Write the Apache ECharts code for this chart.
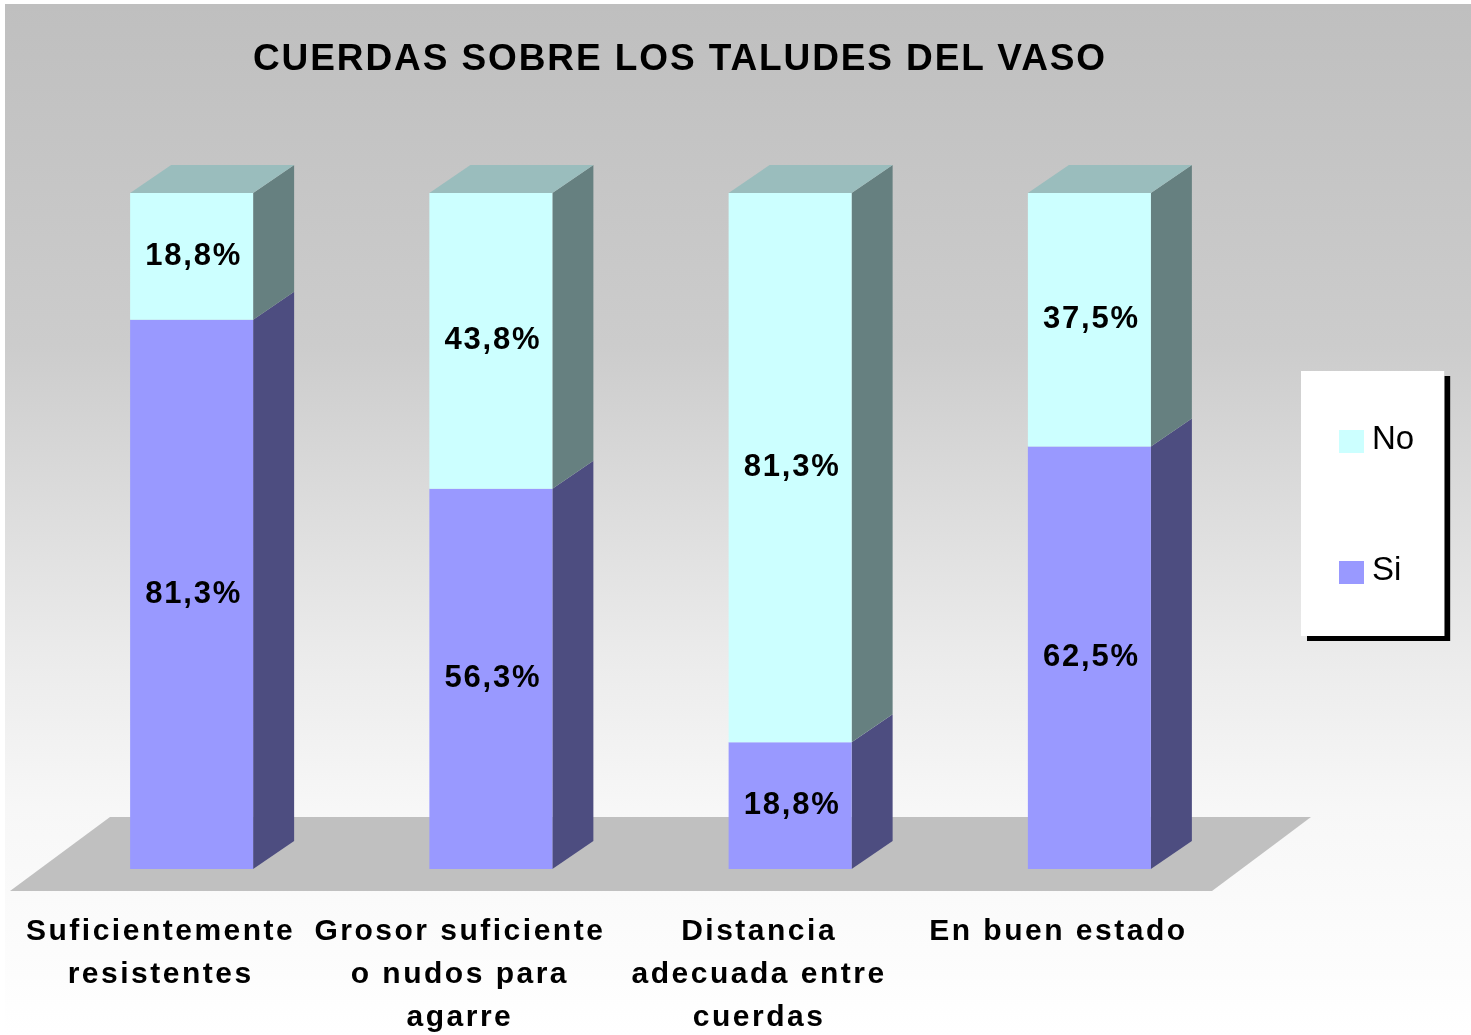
<!DOCTYPE html>
<html><head><meta charset="utf-8">
<style>
html,body{margin:0;padding:0;background:#fff}
#c{width:1471px;height:1035px;filter:blur(0.6px)}
/* bold texts are letter-spaced in the reference */
#c text[style*="37px"]{letter-spacing:1.9px}
#c text[style*="30px"]{letter-spacing:2.5px}
#c text[style*="31px"]{letter-spacing:1.8px}
</style>
<script src="https://cdn.jsdelivr.net/npm/echarts@6/dist/echarts.min.js"></script>
</head><body><div id="c"></div>
<script>
const categories = ['Suficientemente\nresistentes','Grosor suficiente\no nudos para\nagarre','Distancia\nadecuada entre\ncuerdas','En buen estado'];
const si = [81.25, 56.25, 18.75, 62.5];
const no = [18.75, 43.75, 81.25, 37.5];
const titleText = 'CUERDAS SOBRE LOS TALUDES DEL VASO';
const FONT = '"Liberation Sans", Arial, sans-serif';
const BAR_W = 123, DX = 41, DY = 28;
const COL = {si:'#9999ff', no:'#ccffff', siSide:'#4d4d80', noSide:'#668080', noTop:'#9abdbd'};

const sideRows = [];
categories.forEach((c,i)=>{
  sideRows.push([i,0,si[i],0]);
  sideRows.push([i,si[i],si[i]+no[i],1]);
});
const fmt = p => p.value.toFixed(1).replace('.',',') + '%';
const lbl = {show:true,position:'inside',offset:[2,-2],formatter:fmt,color:'#000',fontFamily:FONT,fontWeight:'bold',fontSize:31};

const chart = echarts.init(document.getElementById('c'),null,{renderer:'svg',width:1471,height:1035});
chart.setOption({
  animation:false,
  backgroundColor:'#fff',
  title:{text:titleText,left:675,textAlign:'center',top:34,textStyle:{color:'#000',fontFamily:FONT,fontWeight:'bold',fontSize:37}},
  graphic:[
    {type:'rect',z:-20,silent:true,shape:{x:5,y:4,width:1466,height:1031},
      style:{fill:new echarts.graphic.LinearGradient(0,0,0,1,[
        {offset:0,color:'#bfbfbf'},{offset:0.33,color:'#cccccc'},{offset:0.63,color:'#ebebeb'},{offset:0.78,color:'#f7f7f7'},{offset:1,color:'#ffffff'}])}},
    {type:'polygon',z:-10,silent:true,shape:{points:[[110,817],[1311,817],[1212,891],[10,891]]},style:{fill:'#c0c0c0'}}
  ],
  legend:{
    data:['No','Si'],orient:'vertical',left:1301,top:371,
    padding:[50,30,51,38],itemWidth:25,itemHeight:23,itemGap:98,
    backgroundColor:'#fff',shadowColor:'#000',shadowBlur:0,shadowOffsetX:6,shadowOffsetY:5,
    selectedMode:false,icon:'rect',
    formatter:'{t|{name}}',
    textStyle:{rich:{t:{color:'#000',fontFamily:FONT,fontSize:33,padding:[0,0,8,3]}}}
  },
  grid:{left:42,top:193,width:1197,height:676,outerBoundsMode:'none',containLabel:false},
  xAxis:{type:'category',data:categories,
    axisLine:{show:false},axisTick:{show:false},splitLine:{show:false},
    axisLabel:{interval:0,hideOverlap:false,margin:39,padding:[0,62,0,0],color:'#000',fontFamily:FONT,fontWeight:'bold',fontSize:30,lineHeight:43,align:'center'}},
  yAxis:{type:'value',min:0,max:100,show:false},
  series:[
    {type:'custom',name:'caras',silent:true,z:1,data:sideRows,
     encode:{x:0,y:[1,2]},
     renderItem:(params,api)=>{
       const i=api.value(0), a=api.value(1), b=api.value(2), kind=api.value(3);
       const pa=api.coord([i,a]), pb=api.coord([i,b]);
       const x=pa[0]+BAR_W/2, xl=pa[0]-BAR_W/2;
       const kids=[{type:'polygon',shape:{points:[[x,pb[1]],[x+DX,pb[1]-DY],[x+DX,pa[1]-DY],[x,pa[1]]]},
         style:{fill:kind?COL.noSide:COL.siSide}}];
       if(kind) kids.push({type:'polygon',shape:{points:[[xl,pb[1]],[xl+DX,pb[1]-DY],[x+DX,pb[1]-DY],[x,pb[1]]]},style:{fill:COL.noTop}});
       return {type:'group',children:kids};
     }},
    {type:'bar',name:'Si',stack:'t',data:si,barWidth:BAR_W,itemStyle:{color:COL.si},label:lbl,z:2},
    {type:'bar',name:'No',stack:'t',data:no,barWidth:BAR_W,itemStyle:{color:COL.no},label:lbl,z:2}
  ]
});
</script></body></html>
